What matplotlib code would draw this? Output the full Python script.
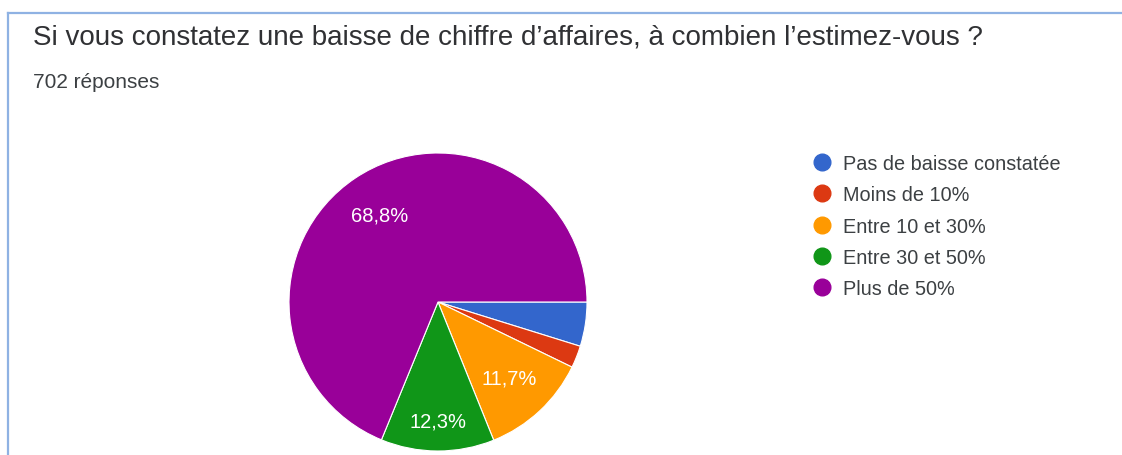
import matplotlib.pyplot as plt
from matplotlib.lines import Line2D

# données du graphique
categories = ['Pas de baisse constatée', 'Moins de 10%', 'Entre 10 et 30%',
              'Entre 30 et 50%', 'Plus de 50%']
valeurs = [4.8, 2.4, 11.7, 12.3, 68.8]
couleurs = ['#3366cc', '#dc3912', '#ff9900', '#109618', '#990099']
titre = "Si vous constatez une baisse de chiffre d’affaires, à combien l’estimez-vous ?"
sous_titre = "702 réponses"

plt.rcParams['font.family'] = ['Liberation Sans', 'DejaVu Sans']

W, H = 1122, 456
fig = plt.figure(figsize=(W / 100, H / 100), dpi=100)

# cadre (haut et gauche)
bord = '#8fb2e3'
fig.add_artist(Line2D([8 / W, 1], [1 - 14 / H, 1 - 14 / H], color=bord, lw=1.6))
fig.add_artist(Line2D([8 / W, 8 / W], [0, 1 - 14 / H], color=bord, lw=1.6))

fig.text(33 / W, 1 - 38 / H, titre, fontsize=20, color='#303134', va='center')
fig.text(33 / W, 1 - 82 / H, sous_titre, fontsize=15, color='#3c4043', va='center')

# camembert
cx, cy, r = 438, 303, 149
demi = 1.25 * r
ax = fig.add_axes([(cx - demi) / W, (H - cy - demi) / H, 2 * demi / W, 2 * demi / H])


def fmt(p):
    if p < 5:
        return ''
    return ('%.1f%%' % p).replace('.', ',')


wedges, textes, autotextes = ax.pie(valeurs, colors=couleurs, startangle=0, counterclock=False,
                                    autopct=fmt, pctdistance=0.7,
                                    wedgeprops=dict(edgecolor='white', linewidth=0.8),
                                    textprops=dict(color='white', fontsize=14.5))
# l'étiquette du secteur vert est placée plus à l'extérieur
x, y = autotextes[3].get_position()
autotextes[3].set_position((x * 0.8 / 0.7, y * 0.8 / 0.7))
ax.set_xlim(-1.25, 1.25)
ax.set_ylim(-1.25, 1.25)

poignees = [Line2D([], [], marker='o', ls='', color=c, markersize=12) for c in couleurs]
fig.legend(poignees, categories, loc='upper left', bbox_to_anchor=(810 / W, 1 - 155 / H),
           frameon=False, fontsize=14.3, labelspacing=0.62, handletextpad=0.45,
           handlelength=1.2, borderpad=0, borderaxespad=0, labelcolor='#3c4043')

fig.savefig('out.png', dpi=100)
